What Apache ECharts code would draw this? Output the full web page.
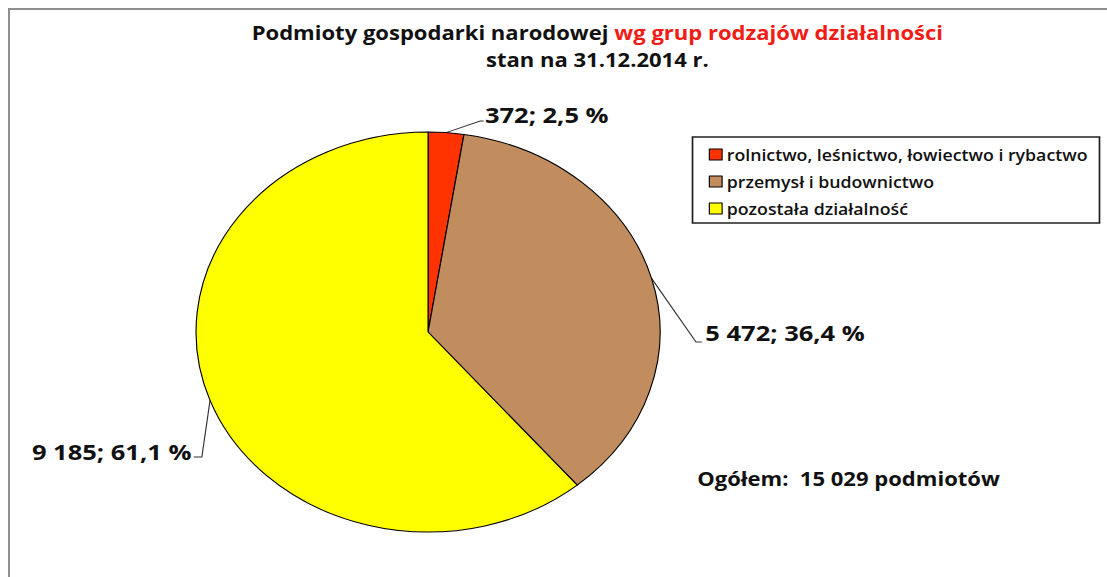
<!DOCTYPE html>
<html>
<head>
<meta charset="utf-8">
<script src="https://cdn.jsdelivr.net/npm/echarts@6/dist/echarts.min.js"></script>
<style>
html,body{margin:0;padding:0;background:#fff;overflow:hidden;}
#frame{position:absolute;left:8px;top:8px;width:1099px;height:569px;border-top:2px solid #8e8e8e;border-left:2px solid #8e8e8e;}
/* the original picture is stretched horizontally, so the whole chart is too */
#main{position:absolute;left:0;top:0;width:955px;height:577px;transform:scaleX(1.16);transform-origin:0 0;}
</style>
</head>
<body>
<div id="frame"></div>
<div id="main"></div>
<script>
var categories = ['rolnictwo, leśnictwo, łowiectwo i rybactwo', 'przemysł i budownictwo', 'pozostała działalność'];
var values = [372, 5472, 9185];
var colors = ['#ff3300', '#c18d5f', '#ffff00'];
var totalText = 'Ogółem:  15 029 podmiotów';

var FONT = 'Open Sans';
var center = [369, 332];
var radius = 200;

// label placement (position + elbow of the leader line)
var labelSpots = [
  {x: 418, y: 115, align: 'left', elbow: [414, 121], end: [417, 121]},
  {x: 608, y: 333, align: 'left', elbow: [600, 342], end: [605, 342]},
  {x: 165, y: 452, align: 'right', elbow: [174, 457], end: [167, 457]}
];

function fmtNum(v) {
  return String(v).replace(/\B(?=(\d{3})+(?!\d))/g, ' ');
}

var total = 0;
for (var i = 0; i < values.length; i++) total += values[i];

// anchor point on the slice edge, at the middle angle of each slice
function anchorOf(idx) {
  var before = 0;
  for (var k = 0; k < idx; k++) before += values[k];
  var mid = (before + values[idx] / 2) / total * Math.PI * 2;
  return [center[0] + radius * Math.sin(mid), center[1] - radius * Math.cos(mid)];
}

var pieData = [];
for (var j = 0; j < categories.length; j++) {
  pieData.push({
    name: categories[j],
    value: values[j],
    itemStyle: {color: colors[j]}
  });
}

var chart = echarts.init(document.getElementById('main'), null, {renderer: 'svg'});
chart.setOption({
  animation: false,
  backgroundColor: 'transparent',
  title: {
    left: 510,
    top: 18,
    textAlign: 'center',
    itemGap: 8,
    text: '{a|Podmioty gospodarki narodowej }{b|wg grup rodzajów działalności}',
    textStyle: {
      rich: {
        a: {fontFamily: FONT, fontSize: 19, fontWeight: 'bold', color: '#111'},
        b: {fontFamily: FONT, fontSize: 19, fontWeight: 'bold', color: '#f01c16'}
      }
    },
    subtext: 'stan na 31.12.2014 r.',
    subtextStyle: {fontFamily: FONT, fontSize: 19, fontWeight: 'bold', color: '#111'}
  },
  legend: {
    orient: 'vertical',
    left: 597,
    top: 137,
    padding: [10, 10, 7, 14],
    itemGap: 12,
    itemWidth: 11,
    itemHeight: 11,
    icon: 'rect',
    borderColor: '#222',
    borderWidth: 1.5,
    borderRadius: 0,
    data: categories,
    itemStyle: {borderColor: '#000', borderWidth: 1},
    textStyle: {fontFamily: FONT, fontSize: 15.3, fontWeight: 600, color: '#111', padding: [0, 0, 0, -1]}
  },
  graphic: [{
    type: 'text',
    left: 601,
    top: 469,
    style: {text: totalText, fontFamily: FONT, fontSize: 19, fontWeight: 'bold', fill: '#111'}
  }],
  series: [{
    type: 'pie',
    center: center,
    radius: [0, radius],
    startAngle: 90,
    clockwise: true,
    avoidLabelOverlap: false,
    data: pieData,
    itemStyle: {borderColor: '#000', borderWidth: 1},
    emphasis: {disabled: true},
    label: {
      show: true,
      position: 'outside',
      fontFamily: FONT,
      fontSize: 22,
      fontWeight: 'bold',
      color: '#111',
      formatter: function (p) {
        return fmtNum(p.value) + '; ' + p.percent.toFixed(1).replace('.', ',') + ' %';
      }
    },
    labelLine: {show: true, lineStyle: {color: '#333', width: 1}},
    labelLayout: function (p) {
      var s = labelSpots[p.dataIndex];
      return {
        x: s.x,
        y: s.y,
        align: s.align,
        verticalAlign: 'middle',
        labelLinePoints: [anchorOf(p.dataIndex), s.elbow, s.end]
      };
    }
  }]
});
</script>
</body>
</html>
